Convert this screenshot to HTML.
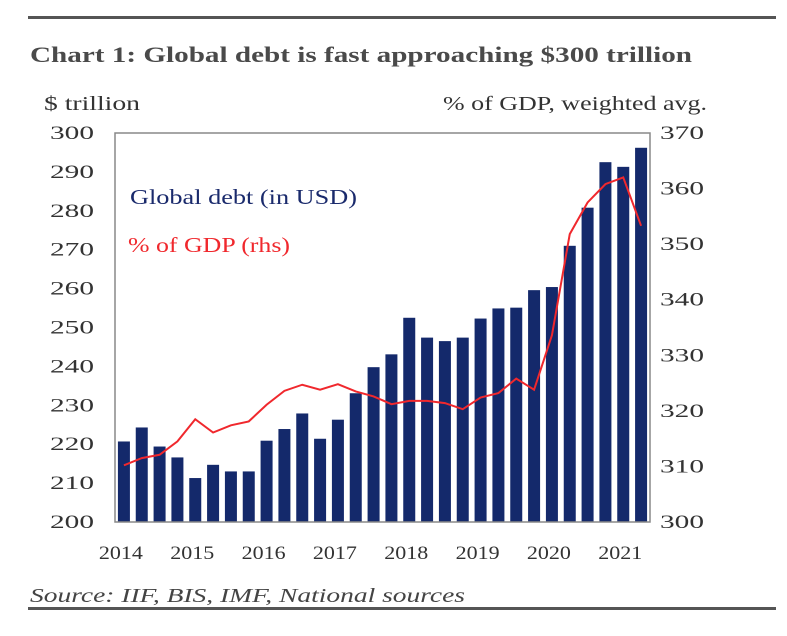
<!DOCTYPE html>
<html><head><meta charset="utf-8"><style>
body{margin:0;background:#fff;width:787px;height:631px;overflow:hidden;font-family:"Liberation Serif",serif;}
svg text{font-family:"Liberation Serif",serif;}
</style></head><body>
<svg id="chart" width="787" height="631">
<rect x="28" y="16" width="748" height="3" fill="#555"/>
<text x="30" y="62" font-size="22" font-weight="bold" fill="#4a4a4a" textLength="662" lengthAdjust="spacingAndGlyphs">Chart 1: Global debt is fast approaching $300 trillion</text>
<text x="44" y="110" font-size="20" fill="#333" textLength="96" lengthAdjust="spacingAndGlyphs">$ trillion</text>
<text x="443" y="110" font-size="20" fill="#333" textLength="264" lengthAdjust="spacingAndGlyphs">% of GDP, weighted avg.</text>
<g id="bars"></g><g id="lt"></g><g id="rt"></g><g id="xt"></g>
<rect x="115" y="133" width="535" height="389" fill="none" stroke="#888" stroke-width="1.5"/>
<polyline id="line" fill="none" stroke="#f0282d" stroke-width="2"/>
<text x="130" y="204" font-size="21" fill="#1a2a6c" textLength="227" lengthAdjust="spacingAndGlyphs">Global debt (in USD)</text>
<text x="128" y="252" font-size="21" fill="#f0282d" textLength="162" lengthAdjust="spacingAndGlyphs">% of GDP (rhs)</text>
<text x="30" y="602" font-size="20" font-style="italic" fill="#444" textLength="435" lengthAdjust="spacingAndGlyphs">Source: IIF, BIS, IMF, National sources</text>
<rect x="28" y="607" width="748" height="3" fill="#555"/>
</svg>
<script>
const debt=[220.7,224.3,219.4,216.6,211.3,214.7,213,213,220.9,223.9,227.9,221.4,226.3,233.1,239.8,243.1,252.5,247.4,246.5,247.4,252.3,254.9,255.1,259.6,260.4,271,280.8,292.5,291.3,296.2];
const pct=[310.2,311.5,312.1,314.5,318.5,316.1,317.4,318.1,321.1,323.6,324.7,323.8,324.8,323.5,322.6,321.2,321.8,321.8,321.4,320.3,322.4,323.2,325.8,323.8,333.6,351.8,357.5,360.8,362,353.3];
const leftTicks=[200,210,220,230,240,250,260,270,280,290,300];
const rightTicks=[300,310,320,330,340,350,360,370];
const years=["2014","2015","2016","2017","2018","2019","2020","2021"];
const NS="http://www.w3.org/2000/svg";
const X0=115,X1=650,Y0=522,Y1=133;
const step=(X1-X0)/debt.length;
const yL=v=>Y0-(v-200)/100*(Y0-Y1);
const yR=v=>Y0-(v-300)/70*(Y0-Y1);
const xC=i=>X0+step*(i+0.5);
function mk(t,a,p){const e=document.createElementNS(NS,t);for(const k in a)e.setAttribute(k,a[k]);p.appendChild(e);return e;}
const bars=document.getElementById('bars');
debt.forEach((v,i)=>{const r=mk('rect',{x:xC(i)-6,y:yL(v),width:12,height:Y0-yL(v),fill:'#14296b'},bars);

});
document.getElementById('line').setAttribute('points',pct.map((v,i)=>xC(i)+','+yR(v)).join(' '));
const lt=document.getElementById('lt');
leftTicks.forEach(v=>{const t=mk('text',{x:94,y:yL(v)+6,'font-size':19,fill:'#333','text-anchor':'end',textLength:44,lengthAdjust:'spacingAndGlyphs'},lt);t.textContent=v;

});
const rt=document.getElementById('rt');
rightTicks.forEach(v=>{const t=mk('text',{x:660,y:yR(v)+6,'font-size':19,fill:'#333',textLength:44,lengthAdjust:'spacingAndGlyphs'},rt);t.textContent=v;

});
const xt=document.getElementById('xt');
years.forEach((y,i)=>{const t=mk('text',{x:xC(i*4)-25,y:559,'font-size':19,fill:'#333',textLength:44,lengthAdjust:'spacingAndGlyphs'},xt);t.textContent=y;

});
</script>
</body></html>
